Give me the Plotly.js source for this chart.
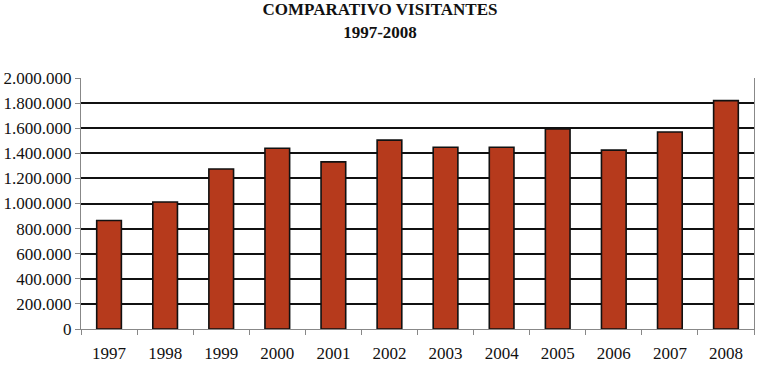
<!DOCTYPE html>
<html>
<head>
<meta charset="utf-8">
<script src="https://cdn.plot.ly/plotly-3.0.1.min.js"></script>
<style>html,body{margin:0;padding:0;background:#fff;}#chart{width:760px;height:367px;}</style>
</head>
<body>
<div id="chart"></div>
<script>
const years = ['1997','1998','1999','2000','2001','2002','2003','2004','2005','2006','2007','2008'];
const visitors = [865000, 1012000, 1275000, 1440000, 1332000, 1505000, 1448000, 1448000, 1595000, 1425000, 1570000, 1820000];
const yTicks = [0, 200000, 400000, 600000, 800000, 1000000, 1200000, 1400000, 1600000, 1800000, 2000000];

const trace = {
  type: 'bar',
  x: years,
  y: visitors,
  marker: {color: '#B63A1C', line: {color: '#111', width: 1.6}},
  hoverinfo: 'x+y'
};

const layout = {
  width: 760, height: 367,
  margin: {l: 81, r: 6, t: 78, b: 38},
  paper_bgcolor: '#fff', plot_bgcolor: '#fff',
  separators: ',.',
  showlegend: false,
  bargap: 0.56,
  font: {family: '"Liberation Serif", "Times New Roman", serif', color: '#111', size: 16},
  title: {
    text: '<b>COMPARATIVO VISITANTES</b><br><b>1997-2008</b>',
    font: {family: '"Liberation Serif", "Times New Roman", serif', size: 17, color: '#111'},
    x: 0.5, xanchor: 'center', y: 0.958, yanchor: 'top'
  },
  xaxis: {
    type: 'category',
    showline: true, linecolor: '#888', linewidth: 1.2, mirror: false,
    ticks: 'outside', tickson: 'boundaries', ticklen: 5, tickcolor: '#888', tickwidth: 1,
    ticklabelstandoff: 8,
    showgrid: false,
    tickfont: {size: 17}
  },
  yaxis: {
    range: [0, 2000000],
    tickvals: yTicks,
    tickformat: ',d',
    showline: true, linecolor: '#888', linewidth: 1.2, mirror: true,
    ticks: 'outside', ticklen: 5, tickcolor: '#888',
    showgrid: true, gridcolor: '#111', gridwidth: 2,
    zeroline: false,
    tickfont: {size: 17}
  }
};

Plotly.newPlot('chart', [trace], layout, {displayModeBar: false, staticPlot: true});
</script>
</body>
</html>
